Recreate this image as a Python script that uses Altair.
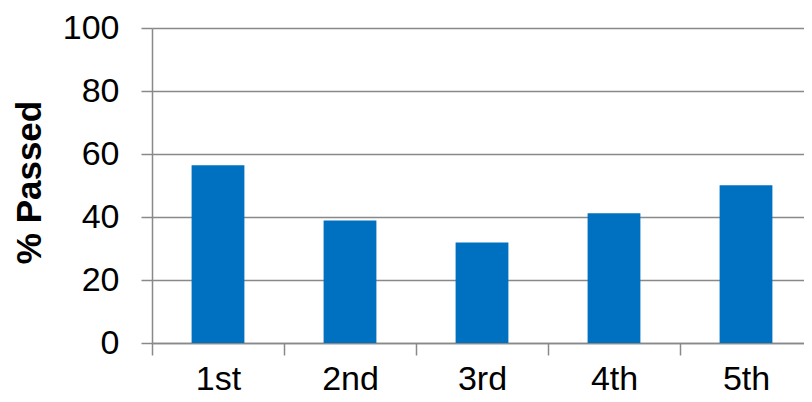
import altair as alt
import pandas as pd

categories = ["1st", "2nd", "3rd", "4th", "5th"]
values = [56.4, 38.9, 31.9, 41.2, 50.1]

df = pd.DataFrame({"cat": categories, "val": values})

GRID = "#898989"
FONT = "Liberation Sans"

chart = alt.Chart(df).mark_bar(color="#0070C0", width=alt.RelativeBandSize(0.4)).encode(
    x=alt.X("cat:N", sort=categories,
            scale=alt.Scale(paddingInner=0, paddingOuter=0),
            axis=alt.Axis(title=None, labelAngle=0, labelFont=FONT, labelFontSize=34,
                          labelColor="black", labelPadding=7, tickBand="extent",
                          tickSize=12, tickColor=GRID, tickWidth=1.5,
                          domainColor=GRID, domainWidth=1.5, grid=False)),
    y=alt.Y("val:Q", scale=alt.Scale(domain=[0, 100]),
            axis=alt.Axis(title="% Passed", values=[0, 20, 40, 60, 80, 100],
                          labelFont=FONT, labelFontSize=34, labelColor="black",
                          labelPadding=22, tickSize=11, tickColor=GRID, tickWidth=1.5,
                          domainColor=GRID, domainWidth=1.5,
                          gridColor=GRID, gridWidth=1.5, gridOpacity=1,
                          titleFont=FONT, titleFontSize=35, titleFontWeight="bold",
                          titleColor="black", titleAngle=270, titleBaseline="middle",
                          titleAlign="center", titleX=-123, titleY=154)),
).properties(
    width=660, height=315,
    autosize=alt.AutoSizeParams(type="none"),
    padding={"left": 144, "top": 20, "right": -8, "bottom": 51},
).configure_view(stroke=None)

chart.save("out.html", embed_options={"renderer": "svg", "actions": False})
